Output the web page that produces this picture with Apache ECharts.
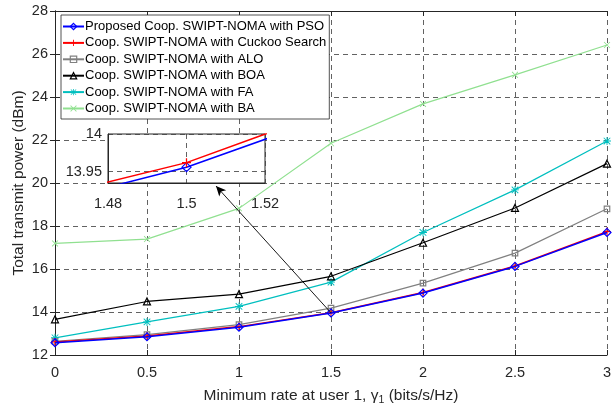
<!DOCTYPE html>
<html>
<head>
<meta charset="utf-8">
<script src="https://cdn.jsdelivr.net/npm/echarts@6/dist/echarts.min.js"></script>
<style>
  html, body { margin: 0; padding: 0; background: #fff; }
  #chart { width: 612px; height: 411px; }
</style>
</head>
<body>
<div id="chart"></div>
<script>
// Minimum rate at user 1 (bits/s/Hz)
const rates = [0, 0.5, 1, 1.5, 2, 2.5, 3];

// Total transmit power (dBm) per scheme
const psoPower     = [12.57, 12.85, 13.29, 13.956, 14.88, 16.12, 17.70];
const cuckooPower  = [12.61, 12.88, 13.32, 13.962, 14.91, 16.14, 17.74];
const aloPower     = [12.64, 12.95, 13.41, 14.18, 15.34, 16.74, 18.80];
const boaPower     = [13.66, 14.49, 14.83, 15.66, 17.22, 18.84, 20.90];
const faPower      = [12.80, 13.54, 14.26, 15.39, 17.70, 19.68, 21.95];
const baPower      = [17.19, 17.39, 18.82, 21.85, 23.68, 25.03, 26.42];

const seriesNames = [
  'Proposed Coop. SWIPT-NOMA with PSO',
  'Coop. SWIPT-NOMA with Cuckoo Search',
  'Coop. SWIPT-NOMA with ALO',
  'Coop. SWIPT-NOMA with BOA',
  'Coop. SWIPT-NOMA with FA',
  'Coop. SWIPT-NOMA with BA'
];

// Main axis ticks
const yTicks = { min: 12, max: 28, step: 2 };
const xTicks = { min: 0, max: 3, step: 0.5 };

// Zoomed view around gamma_1 = 1.5
const zoomX = { min: 1.48, max: 1.52, step: 0.02 };
const zoomY = { min: 13.935, max: 14, labels: [13.95, 14] };
// Arrow from the zoomed point to the inset
const arrowFrom = [1.5, 13.96];
const arrowTo = [0.875, 19.86];

const FONT = 'Liberation Sans';
const INK = '#262626';
const pairs = (ys) => rates.map((x, i) => [x, ys[i]]);

const plusPath = 'path://M4.3,0H5.7V4.3H10V5.7H5.7V10H4.3V5.7H0V4.3H4.3Z';
const crossPath = 'path://M0.9,0L5,4.1L9.1,0L10,0.9L5.9,5L10,9.1L9.1,10L5,5.9L0.9,10L0,9.1L4.1,5L0,0.9Z';
const starPath = 'path://M4.4,0H5.6V4.4H10V5.6H5.6V10H4.4V5.6H0V4.4H4.4Z M1.3,0.5L5,4.2L8.7,0.5L9.5,1.3L5.8,5L9.5,8.7L8.7,9.5L5,5.8L1.3,9.5L0.5,8.7L4.2,5L0.5,1.3Z';

const gridLine = { show: true, lineStyle: { color: '#3a3a3a', type: [5, 4], width: 0.8 } };
const axisLineStyle = { show: true, lineStyle: { color: INK, width: 1 } };
const tickIn = { show: true, inside: true, length: 5, lineStyle: { color: INK } };

const chart = echarts.init(document.getElementById('chart'), null, { renderer: 'canvas' });

// hollow: outlined marker with a see-through face
const mainStyles = [
  { color: '#0000ff', symbol: 'diamond', hollow: true, size: 8, width: 1.5, data: psoPower },
  { color: '#ff0000', symbol: plusPath, hollow: false, size: 8, width: 1.5, data: cuckooPower },
  { color: '#808080', symbol: 'rect', hollow: true, size: 5.5, width: 1.2, data: aloPower },
  { color: '#000000', symbol: 'triangle', hollow: true, size: 7, width: 1.2, data: boaPower },
  { color: '#00bfbf', symbol: starPath, hollow: false, size: 8, width: 1.2, data: faPower },
  { color: '#90e090', symbol: crossPath, hollow: false, size: 6.5, width: 1.2, data: baPower }
];

const markerStyle = (s) => s.hollow
  ? { color: 'rgba(255,255,255,0)', borderColor: s.color, borderWidth: 1.2 }
  : { color: s.color, borderWidth: 0 };

const series = mainStyles.map((s, i) => ({
  name: seriesNames[i],
  type: 'line',
  xAxisIndex: 0,
  yAxisIndex: 0,
  data: pairs(s.data),
  symbol: s.symbol,
  symbolSize: s.size,
  showSymbol: true,
  color: s.color,
  lineStyle: { color: s.color, width: s.width },
  itemStyle: markerStyle(s),
  emphasis: { disabled: true },
  animation: false,
  z: 3 + (5 - i) * 0.01 + (i < 2 ? 0.1 : 0)
}));

// Annotation arrow
series[0].markLine = {
  silent: true,
  symbol: ['none', 'arrow'],
  symbolSize: [7, 10],
  label: { show: false },
  lineStyle: { color: '#000', width: 0.9, type: 'solid' },
  data: [[{ coord: arrowFrom }, { coord: arrowTo }]],
  animation: false
};

// Inset lines (same data, zoomed axes)
[0, 1].forEach((i) => {
  const s = mainStyles[i];
  series.push({
    name: seriesNames[i],
    type: 'line',
    xAxisIndex: 2,
    yAxisIndex: 2,
    data: pairs(s.data),
    symbol: s.symbol,
    symbolSize: 9,
    color: s.color,
    lineStyle: { color: s.color, width: 1.5 },
    itemStyle: markerStyle(s),
    clip: true,
    emphasis: { disabled: true },
    animation: false,
    z: 20 + (i === 1 ? 1 : 0)
  });
});

const option = {
  backgroundColor: '#fff',
  animation: false,
  textStyle: { fontFamily: FONT },
  grid: [
    { left: 55, right: 5, top: 11, bottom: 56, show: false, containLabel: false, outerBoundsMode: 'none' },
    { left: 108, top: 134, width: 157, height: 49, show: true, backgroundColor: '#fff',
      borderColor: INK, borderWidth: 1, z: 10, containLabel: false, outerBoundsMode: 'none' }
  ],
  legend: {
    data: seriesNames.map((n, i) => ({ name: n, itemStyle: markerStyle(mainStyles[i]) })),
    orient: 'vertical',
    left: 61,
    top: 15,
    padding: [5, 3, 4, 1],
    itemGap: 3.4,
    itemWidth: 21,
    itemHeight: 8,
    backgroundColor: '#fff',
    borderColor: INK,
    borderWidth: 0.8,
    borderRadius: 0,
    textStyle: { fontFamily: FONT, fontSize: 13, color: '#000', padding: [0, 0, 0, -4] },
    z: 30
  },
  xAxis: [
    {
      type: 'value', gridIndex: 0, min: xTicks.min, max: xTicks.max, interval: xTicks.step,
      name: '{t|Minimum rate at user 1, }{g|γ}{s|1}{t| (bits/s/Hz)}',
      nameLocation: 'middle', nameGap: 31, nameMoveOverlap: false,
      nameTextStyle: {
        rich: {
          t: { fontFamily: FONT, fontSize: 15.5, color: INK },
          g: { fontFamily: FONT, fontSize: 15.5, color: INK },
          s: { fontFamily: FONT, fontSize: 10.5, color: INK, padding: [9, 0, 0, 0] }
        }
      },
      axisLine: axisLineStyle,
      axisTick: tickIn,
      axisLabel: { fontFamily: FONT, fontSize: 14.5, color: INK, margin: 10,
        formatter: (v) => String(v) },
      splitLine: gridLine
    },
    {
      type: 'value', gridIndex: 0, position: 'top', min: xTicks.min, max: xTicks.max, interval: xTicks.step,
      axisLine: axisLineStyle,
      axisTick: tickIn,
      axisLabel: { show: false },
      splitLine: { show: false }
    },
    {
      type: 'value', gridIndex: 1, min: zoomX.min, max: zoomX.max, interval: zoomX.step,
      axisLine: axisLineStyle,
      axisTick: { show: false },
      axisLabel: { fontFamily: FONT, fontSize: 14.5, color: INK, margin: 13,
        formatter: (v) => String(Math.round(v * 100) / 100) },
      splitLine: gridLine,
      z: 11
    }
  ],
  yAxis: [
    {
      type: 'value', gridIndex: 0, min: yTicks.min, max: yTicks.max, interval: yTicks.step,
      name: 'Total transmit power (dBm)', nameLocation: 'middle', nameGap: 28, nameMoveOverlap: false,
      nameTextStyle: { fontFamily: FONT, fontSize: 15.5, color: INK },
      axisLine: axisLineStyle,
      axisTick: tickIn,
      axisLabel: { fontFamily: FONT, fontSize: 14.5, color: INK, margin: 7 },
      splitLine: gridLine
    },
    {
      type: 'value', gridIndex: 0, position: 'right', min: yTicks.min, max: yTicks.max, interval: yTicks.step,
      axisLine: axisLineStyle,
      axisTick: tickIn,
      axisLabel: { show: false },
      splitLine: { show: false }
    },
    {
      type: 'value', gridIndex: 1, min: zoomY.min, max: zoomY.max,
      axisLine: axisLineStyle,
      axisTick: { show: false, customValues: zoomY.labels },
      axisLabel: { fontFamily: FONT, fontSize: 14.5, color: INK, margin: 6,
        customValues: zoomY.labels, formatter: (v) => String(v) },
      splitLine: gridLine,
      z: 11
    }
  ],
  series: series
};

chart.setOption(option);
</script>
</body>
</html>
